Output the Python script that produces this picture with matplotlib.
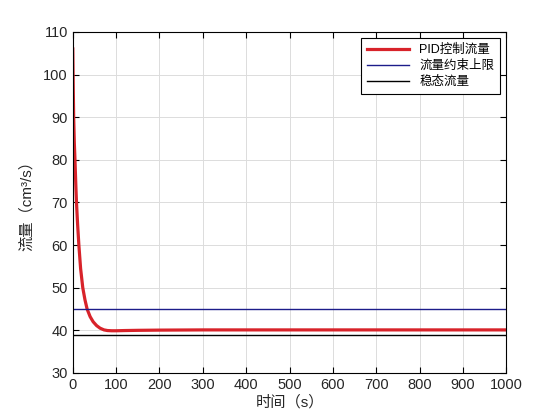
import numpy as np
import matplotlib
matplotlib.use("Agg")
import matplotlib.pyplot as plt

plt.rcParams['font.family'] = ['Liberation Sans', 'Noto Sans CJK SC', 'DejaVu Sans']

# PID flow response
t_pid = [0, 1, 2, 3.5, 5, 7, 8.5, 11, 14, 18, 23, 28, 33, 40, 47, 55, 63, 72, 80, 90, 100,
         120, 150, 200, 300, 400, 500, 600, 700, 800, 900, 1000]
q_pid = [106, 97, 90, 84, 80, 74, 70, 65, 60, 54.5, 50, 47.2, 45, 43.2, 42, 41.1, 40.5, 40.1, 39.95, 39.9, 39.9,
         39.95, 40.0, 40.05, 40.1, 40.1, 40.1, 40.1, 40.1, 40.1, 40.1, 40.1]
q_limit = 45
q_steady = 39
x_range = [0, 1000]

labels = ['PID控制流量', '流量约束上限', '稳态流量']

fig = plt.figure(figsize=(5.6, 4.2), dpi=100)
ax = fig.add_axes([0.130, 0.112, 0.774, 0.812])

ax.plot(t_pid, q_pid, color='#d8232a', lw=2.3, label=labels[0])
ax.plot(x_range, [q_limit, q_limit], color='#1c1c8a', lw=1.0, label=labels[1])
ax.plot(x_range, [q_steady, q_steady], color='black', lw=1.0, label=labels[2])

ax.set_xlim(0, 1000)
ax.set_ylim(30, 110)
ax.set_xticks(np.arange(0, 1001, 100))
ax.set_yticks(np.arange(30, 111, 10))
ax.grid(True, color='#dcdcdc', lw=0.7)
ax.tick_params(direction='in', top=True, right=True, labelsize=10.5, length=4, width=0.8,
               labelcolor='#262626')
for s in ax.spines.values():
    s.set_linewidth(0.8)

ax.set_xlabel('时间（s）', fontsize=11, color='#262626', labelpad=2)
ax.set_ylabel('流量（cm³/s）', fontsize=11, color='#262626', labelpad=7)

leg = ax.legend(loc='upper right', fontsize=9, frameon=True, fancybox=False,
                edgecolor='black', framealpha=1, borderpad=0.45, handlelength=3.4,
                labelspacing=0.3, borderaxespad=0.5)
leg.get_frame().set_linewidth(0.8)

fig.savefig('out.png', dpi=100)
